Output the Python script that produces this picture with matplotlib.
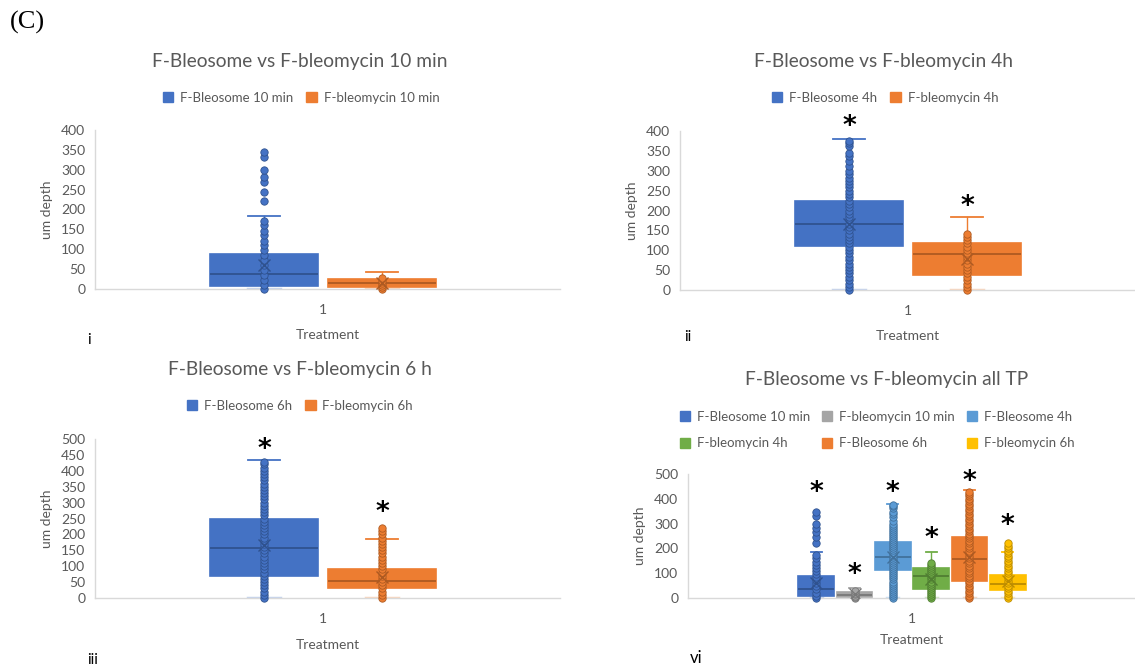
import matplotlib.pyplot as plt
from matplotlib.patches import Patch

plt.rcParams['font.family'] = ['Lato', 'DejaVu Sans']

W, H = 1135, 671
GREY = "#595959"

# box summaries: q1, median, q3, whisker low, whisker high, mean
bleo_10_stats = [8, 38, 87, 0, 184, 60]
blm_10_stats = [4, 14, 24, 0, 42, 15]
bleo_4h_stats = [111, 167, 224, 0, 379, 167]
blm_4h_stats = [38, 90, 119, 0, 184, 77]
bleo_6h_stats = [70, 157, 247, 0, 434, 167]
blm_6h_stats = [31, 55, 92, 0, 184, 67]

# individual points (um depth)
bleo_10_pts = [0, 10, 22, 35, 47, 60, 72, 85, 97, 110, 122, 135, 147, 160, 172,
               222, 245, 268, 282, 299, 331, 345]
blm_10_pts = [0, 5, 10, 15, 20, 27]
bleo_4h_pts = [0, 8, 16, 25, 33, 42, 50, 58, 66, 75, 83, 92, 100, 108, 117, 125,
               133, 142, 150, 158, 167, 175, 183, 192, 200, 208, 217, 225, 233,
               242, 250, 258, 267, 275, 283, 292, 300, 312, 325, 337, 345, 362,
               370, 376]
blm_4h_pts = [0, 8, 16, 25, 33, 42, 50, 58, 66, 75, 83, 92, 100, 108, 117, 125,
              133, 141]
bleo_6h_pts = [0, 10, 20, 30, 40, 50, 60, 70, 80, 90, 100, 110, 120, 130, 140,
               150, 160, 170, 180, 190, 200, 210, 220, 230, 240, 250, 260, 270,
               280, 290, 300, 310, 320, 330, 340, 350, 360, 370, 380, 390, 400,
               410, 420, 427]
blm_6h_pts = [0, 10, 20, 30, 40, 50, 60, 70, 80, 90, 100, 110, 120, 130, 140, 150,
              160, 170, 180, 190, 200, 210, 220]

# asterisk heights
star_4h = [410, 209]
star_6h = [465, 266]
star_all = [422, 93, 422, 238, 469, 292]

BLUE, BLUE_D = "#4472C4", "#2F528F"
ORANGE, ORANGE_D = "#ED7D31", "#AE5A21"
GREYC, GREY_D = "#A5A5A5", "#787878"
LBLUE, LBLUE_D = "#5B9BD5", "#41719C"
GREEN, GREEN_D = "#70AD47", "#507E32"
YELLOW, YELLOW_D = "#FFC000", "#BC8C00"


def rect(x0, y0, x1, y1):
    return [x0 / W, 1 - y1 / H, (x1 - x0) / W, (y1 - y0) / H]


def make_axes(r, ymax, ystep, xmax, xpad=9):
    ax = fig.add_axes(r)
    ax.set_xlim(0, xmax)
    ax.set_ylim(0, ymax)
    ax.set_yticks(range(0, ymax + 1, ystep))
    ax.set_xticks([1])
    ax.set_xticklabels(["1"])
    for s in ["top", "right"]:
        ax.spines[s].set_visible(False)
    for s in ["left", "bottom"]:
        ax.spines[s].set_color("#D9D9D9")
        ax.spines[s].set_linewidth(1)
    ax.tick_params(length=0, labelsize=10, labelcolor=GREY)
    ax.tick_params(axis="y", pad=7)
    ax.tick_params(axis="x", pad=11)
    ax.set_ylabel("um depth", fontsize=10, color=GREY, labelpad=6)
    ax.set_xlabel("Treatment", fontsize=10, color=GREY, labelpad=xpad)
    ax.set_facecolor("none")
    return ax


def box(ax, x, w, st, pts, c, cd):
    q1, med, q3, lo, hi, mean = st
    d = dict(q1=q1, med=med, q3=q3, whislo=lo, whishi=hi, mean=mean, fliers=[])
    b = ax.bxp([d], positions=[x], widths=w, capwidths=w * 0.3, patch_artist=True,
               showmeans=True, showfliers=False, manage_ticks=False,
               boxprops=dict(facecolor=c, edgecolor=c, linewidth=1.2),
               medianprops=dict(color=cd, linewidth=1.3),
               whiskerprops=dict(color=c, linewidth=1),
               capprops=dict(color=c, linewidth=1.3),
               meanprops=dict(marker="x", markeredgecolor=cd, markersize=8,
                              markeredgewidth=1))
    b["caps"][0].set_alpha(0.3)
    b["caps"][0].set_linewidth(2.5)
    for m in b["means"]:
        m.set_zorder(5)
    ax.plot([x] * len(pts), pts, "o", ms=5.3, mfc=c, mec=cd, mew=0.6, zorder=4,
            clip_on=False)


def star(ax, x, y):
    ax.text(x, y, "*", ha="center", va="center", fontsize=19, fontweight="bold",
            color="black", family="DejaVu Sans")


def legend(handles, x, y, ncol, colsp=1.0):
    fig.legend(handles=handles, loc="center", bbox_to_anchor=(x / W, 1 - y / H),
               ncol=ncol, frameon=False, fontsize=9.5, labelcolor=GREY,
               handlelength=0.8, handleheight=0.8, handletextpad=0.5,
               columnspacing=colsp, labelspacing=1.1)


fig = plt.figure(figsize=(W / 100, H / 100), dpi=100)

# (i) 10 min
ax1 = make_axes(rect(95, 130, 560, 289), 400, 50, 465 / 228)
box(ax1, 1 - 0.259, 0.474, bleo_10_stats, bleo_10_pts, BLUE, BLUE_D)
box(ax1, 1 + 0.259, 0.474, blm_10_stats, blm_10_pts, ORANGE, ORANGE_D)
fig.text(300 / W, 1 - 61 / H, "F-Bleosome vs F-bleomycin 10 min", ha="center",
         va="center", fontsize=13.8, color=GREY)
legend([Patch(color=BLUE, label="F-Bleosome 10 min"),
        Patch(color=ORANGE, label="F-bleomycin 10 min")], 301, 98, 2)

# (ii) 4 h
ax2 = make_axes(rect(680, 131, 1135, 290), 400, 50, 455 / 228)
box(ax2, 1 - 0.259, 0.474, bleo_4h_stats, bleo_4h_pts, BLUE, BLUE_D)
box(ax2, 1 + 0.259, 0.474, blm_4h_stats, blm_4h_pts, ORANGE, ORANGE_D)
star(ax2, 1 - 0.259, star_4h[0])
star(ax2, 1 + 0.259, star_4h[1])
fig.text(884 / W, 1 - 62 / H, "F-Bleosome vs F-bleomycin 4h", ha="center",
         va="center", fontsize=13.8, color=GREY)
legend([Patch(color=BLUE, label="F-Bleosome 4h"),
        Patch(color=ORANGE, label="F-bleomycin 4h")], 885, 98, 2)

# (iii) 6 h
ax3 = make_axes(rect(95, 439, 560, 598), 500, 50, 465 / 228, xpad=10)
box(ax3, 1 - 0.259, 0.474, bleo_6h_stats, bleo_6h_pts, BLUE, BLUE_D)
box(ax3, 1 + 0.259, 0.474, blm_6h_stats, blm_6h_pts, ORANGE, ORANGE_D)
star(ax3, 1 - 0.259, star_6h[0])
star(ax3, 1 + 0.259, star_6h[1])
fig.text(300 / W, 1 - 369 / H, "F-Bleosome vs F-bleomycin 6 h", ha="center",
         va="center", fontsize=13.8, color=GREY)
legend([Patch(color=BLUE, label="F-Bleosome 6h"),
        Patch(color=ORANGE, label="F-bleomycin 6h")], 300, 406, 2)

# (vi) all time points
ax4 = make_axes(rect(688, 474, 1135, 598), 500, 100, 447 / 224, xpad=6)
all_stats = [bleo_10_stats, blm_10_stats, bleo_4h_stats, blm_4h_stats,
             bleo_6h_stats, blm_6h_stats]
all_pts = [bleo_10_pts, blm_10_pts, bleo_4h_pts, blm_4h_pts, bleo_6h_pts, blm_6h_pts]
all_cols = [(BLUE, BLUE_D), (GREYC, GREY_D), (LBLUE, LBLUE_D), (GREEN, GREEN_D),
            (ORANGE, ORANGE_D), (YELLOW, YELLOW_D)]
all_names = ["F-Bleosome 10 min", "F-bleomycin 10 min", "F-Bleosome 4h",
             "F-bleomycin 4h", "F-Bleosome 6h", "F-bleomycin 6h"]
for i in range(6):
    xi = 1 + (i - 2.5) * 0.171
    box(ax4, xi, 0.16, all_stats[i], all_pts[i], all_cols[i][0], all_cols[i][1])
    star(ax4, xi, star_all[i])
fig.text(887 / W, 1 - 379 / H, "F-Bleosome vs F-bleomycin all TP", ha="center",
         va="center", fontsize=13.8, color=GREY)
# matplotlib fills legend columns first, so reorder to read row by row
order = [0, 3, 1, 4, 2, 5]
legend([Patch(color=all_cols[i][0], label=all_names[i]) for i in order],
       877, 430, 3, colsp=0.9)

# panel letters
fig.text(10 / W, 1 - 22 / H, "(C)", fontsize=19, family="Liberation Serif",
         va="center", ha="left")
fig.text(87 / W, 1 - 340 / H, "i", fontsize=11, va="center")
fig.text(684 / W, 1 - 337 / H, "ii", fontsize=11, va="center")
fig.text(87 / W, 1 - 660 / H, "iii", fontsize=11, va="center")
fig.text(690 / W, 1 - 658 / H, "vi", fontsize=12, va="center")

fig.savefig("out.png", dpi=100)
